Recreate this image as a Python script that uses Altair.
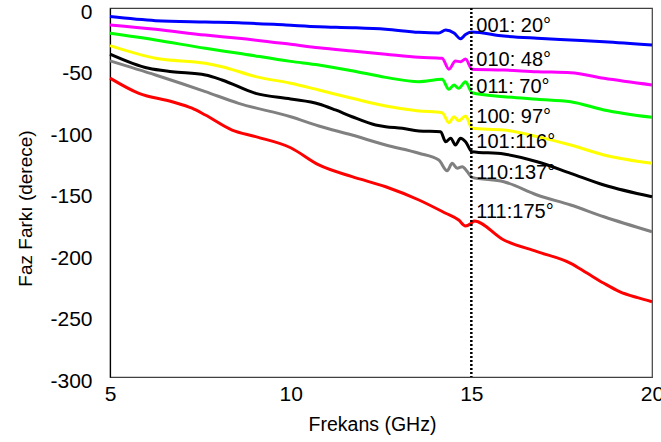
import altair as alt
import pandas as pd

# ---- data ----
f_001 = [5.0, 6.26, 7.64, 8.56, 9.86, 10.78, 11.70, 12.63, 13.55, 14.10, 14.29, 14.52, 14.70, 14.84, 15.0, 15.90, 16.82, 17.75, 18.67, 20.0]
p_001 = [-7, -10.3, -11.4, -12, -13.8, -15.2, -16, -17.3, -19.8, -20.3, -17.9, -20.3, -25, -21.5, -19.5, -22.8, -24.6, -26, -27.4, -30.1]

f_010 = [5.0, 6.26, 7.64, 8.56, 10.0, 10.78, 11.70, 12.63, 13.55, 14.19, 14.38, 14.56, 14.70, 14.84, 15.02, 15.90, 16.82, 17.75, 18.67, 20.0]
p_010 = [-13.8, -17.3, -22, -24.6, -29.5, -32.3, -35, -37.6, -40.1, -40.9, -49.8, -43.1, -43.7, -41.5, -49.8, -50.4, -51.8, -52.6, -57.2, -62.6]

f_011 = [5.0, 6.26, 7.64, 8.56, 10.0, 10.78, 11.70, 12.63, 13.55, 14.19, 14.38, 14.52, 14.65, 14.84, 15.02, 15.90, 16.82, 17.75, 18.67, 20.0]
p_011 = [-20.6, -26, -32.8, -36.8, -43.4, -46.3, -51, -56.4, -59.9, -58, -66.1, -62.6, -65.3, -59.9, -68.9, -72.1, -74.2, -76.2, -82.9, -88.9]

f_100 = [5.0, 6.26, 7.64, 8.1, 9.03, 10.0, 10.78, 11.70, 12.63, 13.55, 14.19, 14.38, 14.52, 14.65, 14.84, 15.02, 15.90, 16.82, 17.75, 18.67, 20.0]
p_100 = [-30.6, -40.9, -45, -47.7, -55.8, -61.2, -66.7, -73.4, -79.7, -83.7, -85.1, -93.2, -88.4, -91.6, -87.8, -97.8, -99.2, -104.6, -111.4, -119.5, -126.3]

f_101 = [5.0, 6.07, 6.72, 7.64, 8.1, 9.03, 10.0, 10.78, 11.24, 11.70, 12.35, 12.63, 13.09, 13.55, 14.15, 14.29, 14.43, 14.56, 14.70, 14.84, 15.02, 15.90, 16.82, 17.75, 18.67, 20.0]
p_101 = [-37.4, -49, -51.8, -54.5, -58.5, -69.4, -74, -78, -82.9, -88.4, -95.1, -96.5, -97.8, -100, -100.6, -108.7, -105.9, -111.4, -105.9, -108.7, -116.8, -118.7, -125, -134.4, -143.9, -153.4]

f_110 = [5.0, 6.26, 7.64, 8.56, 10.0, 10.78, 11.70, 12.63, 13.55, 14.10, 14.33, 14.47, 14.61, 14.75, 14.89, 15.02, 15.90, 16.82, 17.75, 18.67, 20.0]
p_110 = [-43, -54.5, -68, -77.5, -88.4, -95.9, -103.3, -111.4, -118.1, -123.6, -132.3, -126.3, -130.3, -129, -133.1, -137.7, -141.2, -152, -160.2, -169.7, -181.9]

f_111 = [5.0, 5.8, 6.72, 7.27, 7.64, 8.38, 9.03, 10.0, 10.78, 11.70, 12.63, 13.55, 14.29, 14.65, 14.84, 15.0, 15.07, 15.90, 16.82, 17.75, 18.2, 18.67, 19.1, 19.6, 20.0]
p_111 = [-57, -69.4, -76.2, -81.5, -87, -99.2, -104.6, -113.6, -127.6, -137.1, -145.3, -156.1, -166.9, -172.4, -177.2, -175, -173.2, -188.6, -198.1, -207.6, -215.5, -223.8, -230.5, -235.5, -238.8]

series_names = ["001", "010", "011", "100", "101", "110", "111"]
series_colors = ["#0000FF", "#FF00FF", "#00FF00", "#FFFF00", "#000000", "#808080", "#FF0000"]
freqs = [f_001, f_010, f_011, f_100, f_101, f_110, f_111]
phases = [p_001, p_010, p_011, p_100, p_101, p_110, p_111]

label_texts = ["001: 20°", "010: 48°", "011: 70°", "100: 97°", "101:116°", "110:137°", "111:175°"]
label_y = [-14.5, -42.3, -64.2, -88.6, -108.9, -134.1, -165.9]
label_x = [15.0] * 7

marker_freq = [15.0]

x_ticks = [5, 10, 15, 20]
y_ticks = [0, -50, -100, -150, -200, -250, -300]

# ---- build tables ----
rows = []
for name, fs, ps in zip(series_names, freqs, phases):
    for i, (f, p) in enumerate(zip(fs, ps)):
        rows.append({"series": name, "freq": f, "phase": p, "order": i})
df = pd.DataFrame(rows)

labels_df = pd.DataFrame({"freq": label_x, "phase": label_y, "text": label_texts})
marker_df = pd.DataFrame({"freq": marker_freq, "top": [0], "bottom": [-300]})

FONT = "Liberation Sans"
HYPHEN_LABEL = "datum.value < 0 ? '-' + abs(datum.value) : '' + datum.value"

x_scale = alt.Scale(domain=[5, 20], nice=False, zero=False)
y_scale = alt.Scale(domain=[-300, 0], nice=False, zero=False)

x_axis = alt.Axis(
    values=x_ticks, title="Frekans (GHz)", grid=False, ticks=False,
    labelFontSize=21, labelFont=FONT, labelColor="#000000", labelPadding=6,
    titleFontSize=19.5, titleFont=FONT, titleFontWeight="normal", titleColor="#000000",
    titleX=262, titleY=47, titleBaseline="middle",
    domainColor="#404040", domainWidth=1.2, labelFlush=False,
)
y_axis = alt.Axis(
    values=y_ticks, title="Faz Farkı (derece)", grid=False, ticks=False,
    labelFontSize=21, labelFont=FONT, labelColor="#000000", labelPadding=18,
    labelExpr=HYPHEN_LABEL, labelOffset=4,
    titleFontSize=19, titleFont=FONT, titleFontWeight="normal", titleColor="#000000",
    titleX=-85, titleY=200, titleAngle=270, titleBaseline="middle",
    domainColor="#000000", domainWidth=1.2, labelFlush=False,
)

lines = alt.Chart(df).mark_line(strokeWidth=3, interpolate="monotone").encode(
    x=alt.X("freq:Q", scale=x_scale, axis=x_axis),
    y=alt.Y("phase:Q", scale=y_scale, axis=y_axis),
    color=alt.Color("series:N", scale=alt.Scale(domain=series_names, range=series_colors), legend=None),
    order=alt.Order("order:Q"),
)

marker = alt.Chart(marker_df).mark_rule(color="#000000", strokeWidth=2.5, strokeDash=[2, 2]).encode(
    x=alt.X("freq:Q", scale=x_scale),
    y=alt.Y("top:Q", scale=y_scale),
    y2="bottom:Q",
)

labels = alt.Chart(labels_df).mark_text(
    align="left", baseline="middle", dx=5, fontSize=20, font=FONT, color="#000000"
).encode(
    x=alt.X("freq:Q", scale=x_scale),
    y=alt.Y("phase:Q", scale=y_scale),
    text="text:N",
)

chart = alt.layer(lines, marker, labels).properties(
    width=542, height=369,
    autosize=alt.AutoSizeParams(type="none"),
    padding={"left": 110, "top": 8, "right": 9, "bottom": 65},
    background="#ffffff",
).configure_view(stroke="#404040", strokeWidth=1.2)

chart.save("out.html", embed_options={"renderer": "svg", "actions": False})
